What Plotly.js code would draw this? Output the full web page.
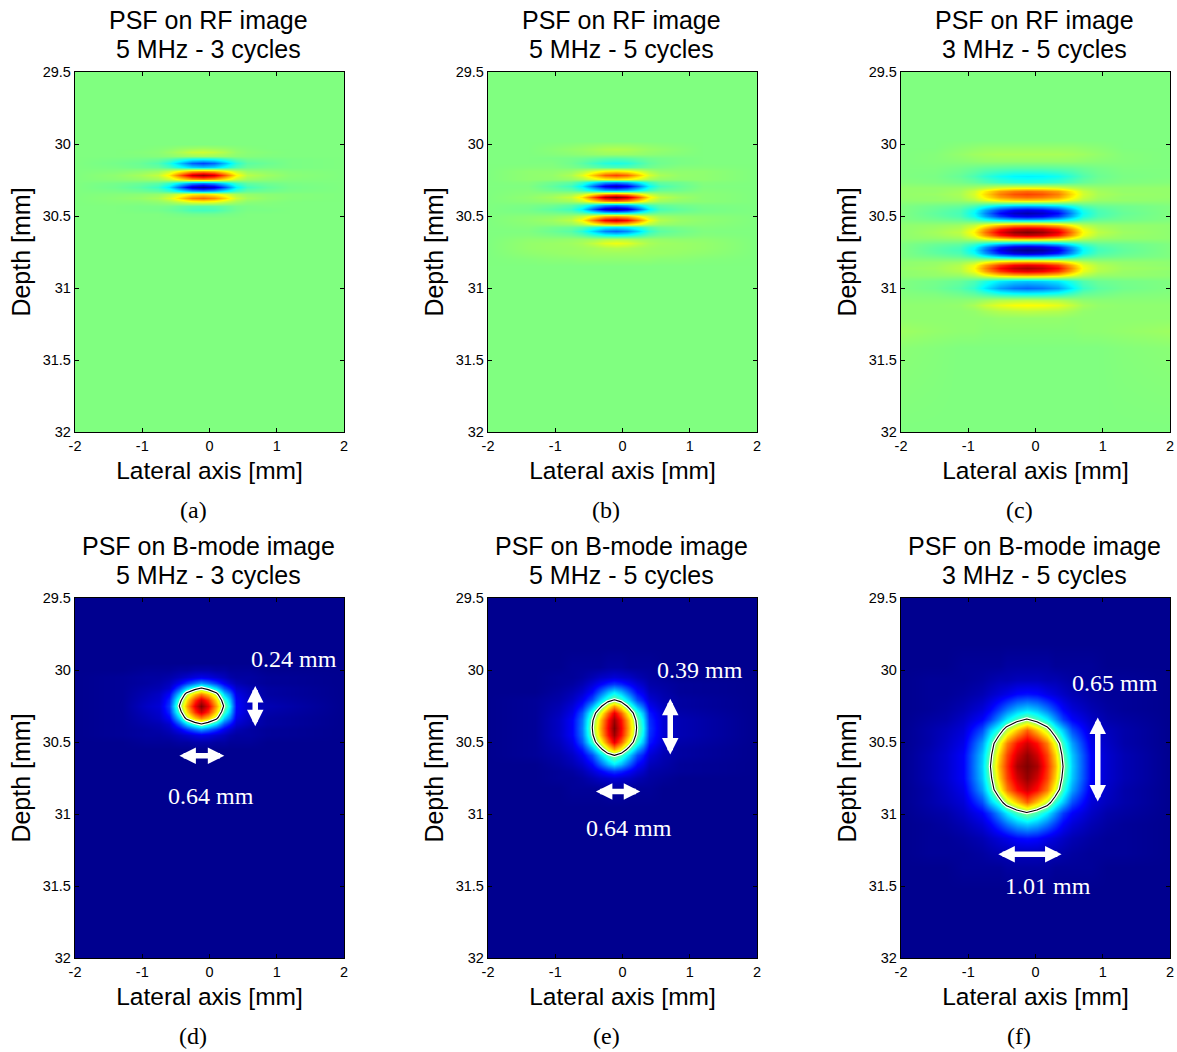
<!DOCTYPE html>
<html><head><meta charset="utf-8">
<script src="https://cdn.plot.ly/plotly-3.0.1.min.js"></script>
<style>html,body{margin:0;padding:0;background:#fff}</style></head>
<body><div id="chart" style="width:1177px;height:1052px"></div>
<script>
const titleLine1 = ["PSF on RF image","PSF on RF image","PSF on RF image","PSF on B-mode image","PSF on B-mode image","PSF on B-mode image"];
const titleLine2 = ["5 MHz - 3 cycles","5 MHz - 5 cycles","3 MHz - 5 cycles","5 MHz - 3 cycles","5 MHz - 5 cycles","3 MHz - 5 cycles"];
const captions = ["(a)","(b)","(c)","(d)","(e)","(f)"];
const xTicks = [-2,-1,0,1,2];
const yTicks = [29.5,30,30.5,31,31.5,32];
const yTickText = ["29.5","30","30.5","31","31.5","32"];

const xA = [-2,-1.4,-1.05,-.76,-.6,-.43,-.26,-.1,.06,.23,.4,.56,.85,1.2,2];
const yA = [29.5,29.97,30,30.027,30.053,30.08,30.107,30.134,30.161,30.188,30.215,30.242,30.269,30.296,30.323,30.35,30.377,30.404,30.431,30.458,30.485,30.512,30.54,32];
const zA = [
[0,0,0,0,0,0,0,0,0,0,0,0,0,0,0],
[0,0,0,0,0,0,0,0,0,0,0,0,0,0,0],
[0,0,0,0,0,0,0,0,0,0,0,0,0,0,0],
[0,0,0,1,2,4,5,6,5,4,2,1,0,0,0],
[0,0,1,2,5,9,14,15,13,9,4,2,1,0,0],
[0,0,0,1,2,4,5,6,5,4,2,1,0,0,0],
[0,-1,-2,-4,-8,-16,-23,-25,-22,-15,-7,-3,-2,-1,0],
[0,-2,-4,-9,-19,-38,-56,-62,-55,-37,-17,-7,-4,-1,0],
[0,-1,-3,-5,-11,-23,-33,-37,-33,-22,-10,-4,-2,-1,0],
[0,1,3,6,14,28,41,45,40,27,13,5,3,1,0],
[0,3,7,13,28,59,86,95,84,57,27,11,6,2,0],
[0,2,4,7,15,31,45,50,44,30,14,6,3,1,0],
[0,-2,-4,-7,-15,-31,-45,-50,-44,-30,-14,-6,-3,-1,0],
[0,-3,-7,-14,-29,-60,-87,-97,-85,-58,-27,-12,-6,-2,0],
[0,-1,-3,-6,-13,-26,-38,-42,-37,-25,-12,-5,-3,-1,0],
[0,1,2,4,9,19,27,30,26,18,8,4,2,1,0],
[0,2,4,8,17,34,50,55,48,33,15,7,3,1,0],
[0,1,1,3,6,12,18,20,18,12,6,2,1,0,0],
[0,0,-1,-1,-2,-5,-7,-8,-7,-5,-2,-1,0,0,0],
[0,0,-1,-2,-4,-7,-11,-12,-11,-7,-3,-1,-1,0,0],
[0,0,0,0,-1,-2,-3,-3,-3,-2,-1,0,0,0,0],
[0,0,0,0,0,0,0,0,0,0,0,0,0,0,0],
[0,0,0,0,0,0,0,0,0,0,0,0,0,0,0],
[0,0,0,0,0,0,0,0,0,0,0,0,0,0,0]];

const xB = [-2,-1.4,-1.05,-.76,-.6,-.43,-.26,-.1,.06,.23,.4,.56,.85,1.2,2];
const yB = [29.5,29.98,30.01,30.037,30.07,30.10,30.134,30.161,30.188,30.215,30.24,30.267,30.292,30.318,30.344,30.37,30.396,30.422,30.449,30.475,30.50,30.528,30.553,30.578,30.604,30.632,30.66,30.69,30.72,30.76,30.80,30.85,32];
const zB = [
[0,0,0,0,0,0,0,0,0,0,0,0,0,0,0],
[0,0,0,0,0,0,0,0,0,0,0,0,0,0,0],
[0,0,1,2,3,4,5,5,5,4,3,2,1,0,0],
[0,0,2,4,5,7,9,10,9,7,5,4,2,0,0],
[0,0,1,2,3,4,5,5,5,4,3,2,1,0,0],
[0,0,-1,-2,-3,-5,-7,-8,-7,-5,-3,-2,-1,0,0],
[0,0,0,-3,-7,-13,-18,-20,-18,-12,-6,-3,-1,0,0],
[0,1,1,-1,-3,-6,-9,-10,-9,-6,-3,-1,1,1,0],
[0,3,3,5,10,19,27,30,26,18,9,4,3,3,0],
[0,3,4,9,19,38,56,62,55,37,17,8,4,3,0],
[0,3,3,5,9,19,27,30,26,18,8,4,3,3,0],
[0,1,-3,-6,-14,-28,-41,-45,-40,-27,-13,-5,-3,1,0],
[0,0,-6,-13,-27,-56,-81,-90,-79,-54,-25,-11,-5,0,0],
[0,1,-3,-6,-14,-28,-41,-45,-40,-27,-13,-5,-3,1,0],
[0,2,4,7,15,31,45,50,44,30,14,6,3,2,0],
[0,3,7,14,30,62,90,100,88,60,28,12,6,2,0],
[0,2,4,7,15,31,45,50,44,30,14,6,3,2,0],
[0,-1,-3,-7,-14,-30,-43,-48,-42,-29,-13,-6,-3,-1,0],
[0,-2,-7,-13,-28,-59,-85,-95,-84,-57,-27,-11,-6,-2,0],
[0,-1,-3,-6,-13,-28,-41,-45,-40,-27,-13,-5,-3,-1,0],
[0,2,3,6,13,26,38,42,37,25,12,5,3,2,0],
[0,3,6,12,26,53,77,85,75,51,24,10,5,3,0],
[0,2,3,5,11,24,34,38,33,23,11,5,3,2,0],
[0,1,-2,-4,-8,-17,-25,-28,-25,-17,-8,-3,-1,1,0],
[0,0,-4,-8,-17,-34,-50,-55,-48,-33,-15,-7,-3,0,0],
[0,1,-1,-3,-7,-15,-22,-25,-22,-15,-7,-3,-1,1,0],
[0,3,3,4,5,6,9,10,9,6,5,4,3,3,0],
[0,4,5,6,8,13,19,22,19,13,8,6,5,4,0],
[0,4,5,5,6,7,9,10,9,7,6,5,5,4,0],
[0,3,4,5,5,6,6,6,6,6,5,5,4,3,0],
[0,1,2,2,3,3,3,3,3,3,3,2,2,1,0],
[0,0,0,0,0,0,0,0,0,0,0,0,0,0,0],
[0,0,0,0,0,0,0,0,0,0,0,0,0,0,0]];

const xC = [-2,-1.5,-1.12,-.91,-.75,-.53,-.32,-.12,.1,.33,.55,.71,.93,1.3,2];
const yC = [29.5,29.97,30.02,30.072,30.12,30.17,30.222,30.263,30.304,30.323,30.345,30.367,30.39,30.43,30.455,30.477,30.499,30.52,30.565,30.587,30.609,30.631,30.652,30.695,30.716,30.738,30.76,30.78,30.82,30.841,30.863,30.885,30.908,30.952,30.997,31.04,31.08,31.118,31.16,31.21,31.3,31.42,32];
const zC = [
[0,0,0,0,0,0,0,0,0,0,0,0,0,0,0],
[0,0,0,0,0,0,0,0,0,0,0,0,0,0,0],
[0,0,2,3,4,4,4,4,4,4,4,3,2,0,0],
[0,1,4,6,7,8,8,8,8,8,7,6,4,1,0],
[0,1,2,3,4,4,4,4,4,4,4,3,2,1,0],
[0,0,-2,-4,-6,-7,-8,-8,-8,-7,-6,-4,-2,0,0],
[0,-1,-5,-10,-16,-22,-26,-27,-26,-22,-15,-9,-4,-1,0],
[1,0,-2,-5,-9,-14,-17,-18,-17,-14,-9,-5,-2,0,1],
[4,4,5,8,13,20,24,25,24,20,13,8,5,4,4],
[4,4,7,15,28,44,51,54,51,44,27,14,7,4,4],
[4,5,8,17,32,50,59,62,59,50,31,16,8,5,4],
[4,4,7,15,28,44,51,54,51,44,27,14,7,4,4],
[3,4,5,10,19,29,34,36,34,29,18,10,5,4,3],
[0,-3,-5,-11,-21,-33,-39,-41,-39,-33,-21,-10,-5,-3,0],
[0,-5,-10,-22,-42,-64,-76,-80,-76,-64,-40,-20,-10,-4,0],
[0,-6,-11,-25,-48,-74,-87,-92,-87,-74,-46,-23,-11,-5,0],
[0,-5,-10,-22,-42,-64,-76,-80,-76,-64,-40,-20,-10,-4,0],
[0,-3,-6,-13,-25,-38,-46,-48,-46,-38,-24,-12,-6,-3,0],
[3,4,6,13,25,38,46,48,46,38,24,12,6,4,3],
[3,6,10,23,45,70,83,87,83,70,44,22,10,5,3],
[3,7,12,27,52,80,95,100,95,80,50,25,12,6,3],
[3,6,10,23,45,70,83,87,83,70,44,22,10,5,3],
[3,4,6,14,26,40,48,50,48,40,25,13,6,4,3],
[0,-4,-6,-14,-26,-40,-48,-50,-48,-40,-25,-13,-6,-4,0],
[0,-6,-10,-23,-45,-70,-83,-87,-83,-70,-44,-22,-10,-5,0],
[0,-7,-12,-27,-52,-80,-95,-100,-95,-80,-50,-25,-12,-6,0],
[0,-6,-10,-23,-45,-70,-83,-87,-83,-70,-44,-22,-10,-5,0],
[0,-3,-6,-13,-25,-39,-47,-49,-47,-39,-25,-12,-6,-3,0],
[3,4,6,12,24,37,44,46,44,37,23,12,6,4,3],
[3,5,10,22,42,64,76,80,76,64,40,20,10,5,3],
[4,6,11,25,48,74,87,92,87,74,46,23,11,6,4],
[3,5,10,22,42,64,76,80,76,64,40,20,10,5,3],
[3,4,5,11,22,34,40,42,40,34,21,11,5,4,3],
[0,-2,-5,-10,-19,-29,-34,-36,-34,-29,-18,-9,-4,-2,0],
[0,-3,-8,-15,-29,-44,-52,-55,-52,-44,-28,-14,-7,-3,0],
[1,0,-3,-6,-11,-18,-21,-22,-21,-18,-11,-5,-3,0,1],
[2,2,2,3,6,10,11,12,11,10,6,3,2,2,2],
[3,3,4,8,14,20,24,25,24,20,13,7,4,3,3],
[3,3,3,4,7,10,11,12,11,10,7,4,3,3,3],
[3,3,3,3,3,4,4,4,4,4,3,3,3,3,3],
[6,4,3,3,2,2,2,2,2,2,2,3,3,4,6],
[2,1,0,0,0,0,0,0,0,0,0,0,0,1,2],
[0,0,0,0,0,0,0,0,0,0,0,0,0,0,0]];

const xD = [-2,-1.3,-.95,-.75,-.6,-.45,-.34,-.22,-.12,-.02,.1,.21,.3,.4,.6,.85,2];
const yD = [29.5,29.95,30,30.05,30.09,30.125,30.17,30.21,30.25,30.29,30.33,30.375,30.41,30.45,30.5,30.55,32];
const zD = [
[0,0,0,0,0,0,0,0,0,0,0,0,0,0,0,0,0],
[0,0,0,0,0,0,0,0,0,0,0,0,0,0,0,0,0],
[0,0,1,1,1,2,2,3,3,3,2,2,1,1,1,0,0],
[0,1,2,2,3,5,7,9,10,9,7,5,3,2,2,1,0],
[0,1,2,3,5,11,18,24,28,24,18,11,7,4,2,1,0],
[0,1,3,4,7,20,34,44,50,44,34,20,14,7,4,2,0],
[0,1,4,6,12,33,56,68,75,68,56,33,24,10,5,2,0],
[0,1,5,7,16,44,66,83,92,83,66,44,31,12,6,3,0],
[0,1,6,8,18,50,72,90,100,90,72,50,35,13,6,4,0],
[0,1,5,7,16,44,66,83,92,83,66,44,31,12,6,3,0],
[0,1,4,6,12,33,56,68,75,68,56,33,24,10,5,2,0],
[0,1,3,4,7,20,34,44,50,44,34,20,14,7,4,2,0],
[0,1,2,3,5,11,18,24,28,24,18,11,7,4,2,1,0],
[0,1,2,2,3,5,7,9,10,9,7,5,3,2,2,1,0],
[0,0,1,1,1,2,2,3,3,3,2,2,1,1,1,0,0],
[0,0,0,0,0,0,0,0,0,0,0,0,0,0,0,0,0],
[0,0,0,0,0,0,0,0,0,0,0,0,0,0,0,0,0]];

const xE = [-2,-1.3,-.95,-.75,-.6,-.45,-.34,-.22,-.12,-.02,.1,.21,.3,.4,.6,.85,2];
const yE = [29.5,29.85,29.98,30.05,30.1,30.15,30.207,30.25,30.3,30.35,30.4,30.45,30.5,30.55,30.593,30.65,30.7,30.75,30.82,30.95,32];
const zE = [
[0,0,0,0,0,0,0,0,0,0,0,0,0,0,0,0,0],
[0,0,0,0,0,0,0,0,0,0,0,0,0,0,0,0,0],
[0,0,0,1,1,1,1,2,2,2,1,1,1,1,0,0,0],
[0,0,1,1,2,4,6,7,8,7,6,4,3,2,1,0,0],
[0,0,1,2,4,8,12,16,18,16,12,8,6,3,2,1,0],
[0,0,2,4,7,13,22,31,36,31,22,13,10,5,3,1,0],
[0,1,3,6,11,20,33,44,50,44,33,20,15,8,4,2,0],
[0,1,4,8,15,30,45,62,72,62,45,30,22,11,5,2,0],
[0,1,5,10,21,42,60,78,90,78,60,42,31,15,7,3,0],
[0,1,6,12,24,48,68,86,97,86,68,48,36,17,8,4,0],
[0,1,6,12,25,50,70,88,100,88,70,50,38,18,8,4,0],
[0,1,6,12,24,48,68,86,97,86,68,48,36,17,8,4,0],
[0,1,5,10,21,42,60,78,90,78,60,42,31,15,7,3,0],
[0,1,4,8,15,30,45,62,72,62,45,30,22,11,5,2,0],
[0,1,3,6,11,20,33,44,50,44,33,20,15,8,4,2,0],
[0,0,2,4,7,13,22,31,36,31,22,13,10,5,3,1,0],
[0,0,1,2,4,8,12,16,18,16,12,8,6,3,2,1,0],
[0,0,1,1,2,4,6,7,8,7,6,4,3,2,1,0,0],
[0,0,0,1,1,1,1,2,2,2,1,1,1,1,0,0,0],
[0,0,0,0,0,0,0,0,0,0,0,0,0,0,0,0,0],
[0,0,0,0,0,0,0,0,0,0,0,0,0,0,0,0,0]];

const xF = [-2,-1.58,-1.33,-1.08,-.8,-.67,-.55,-.43,-.28,-.13,.02,.17,.29,.41,.54,.82,1.07,1.32,2];
const yF = [29.5,29.82,29.97,30.07,30.17,30.27,30.34,30.42,30.51,30.59,30.67,30.75,30.83,30.92,30.99,31.07,31.17,31.27,31.37,31.52,32];
const zF = [
[0,0,0,0,0,0,0,0,0,0,0,0,0,0,0,0,0,0,0],
[0,0,0,0,0,0,0,0,0,0,0,0,0,0,0,0,0,0,0],
[0,0,0,1,1,1,1,2,2,2,2,2,1,1,1,1,0,0,0],
[0,1,1,1,2,3,4,4,5,5,5,4,4,3,2,1,1,1,0],
[0,1,1,2,4,6,8,10,13,14,13,10,8,6,4,2,1,1,0],
[0,1,2,4,8,12,18,24,30,33,30,24,18,12,8,4,2,1,0],
[0,2,3,6,12,18,27,36,44,50,44,36,27,18,12,6,3,2,0],
[0,3,5,8,20,32,42,57,68,78,68,57,42,32,20,8,5,3,0],
[0,3,6,10,28,42,60,75,86,92,86,75,60,42,28,10,6,3,0],
[0,4,7,12,32,47,67,81,92,98,92,81,67,47,32,12,7,4,0],
[0,4,7,12,33,50,70,83,96,100,96,83,70,50,33,12,7,4,0],
[0,4,7,12,32,47,67,81,92,98,92,81,67,47,32,12,7,4,0],
[0,3,6,10,28,42,60,75,86,92,86,75,60,42,28,10,6,3,0],
[0,3,5,8,20,32,42,57,68,78,68,57,42,32,20,8,5,3,0],
[0,2,3,6,12,18,27,36,44,50,44,36,27,18,12,6,3,2,0],
[0,1,2,4,8,12,18,24,30,33,30,24,18,12,8,4,2,1,0],
[0,1,1,2,4,6,8,10,13,14,13,10,8,6,4,2,1,1,0],
[0,1,1,1,2,3,4,4,5,5,5,4,4,3,2,1,1,1,0],
[0,0,0,1,1,1,1,2,2,2,2,2,1,1,1,1,0,0,0],
[0,0,0,0,0,0,0,0,0,0,0,0,0,0,0,0,0,0,0],
[0,0,0,0,0,0,0,0,0,0,0,0,0,0,0,0,0,0,0]];

const arrowAxis = [4,4,5,5,6,6];
const arrowX0 = [.68,-.47,.71,-.418,.926,-.575];
const arrowY0 = [30.10,30.596,30.19,30.843,30.32,31.28];
const arrowX1 = [.68,.22,.71,.264,.926,.388];
const arrowY1 = [30.39,30.596,30.587,30.843,30.913,31.28];
const labelText = ["0.24 mm","0.64 mm","0.39 mm","0.64 mm","0.65 mm","1.01 mm"];
const labelX = [1.254,.015,1.15,.096,1.188,.185];
const labelY = [29.925,30.878,29.998,31.1,30.09,31.5];

const jet = [[0,'rgb(0,0,143)'],[.125,'rgb(0,0,255)'],[.375,'rgb(0,255,255)'],[.625,'rgb(255,255,0)'],[.875,'rgb(255,0,0)'],[1,'rgb(128,0,0)']];
const W = 1177, H = 1052;
const panelLeft = [75,488,901], panelWidth = 269;
const panelTop = [72,598], panelHeight = 360;
const title1Y = [20,546], title2Y = [49,575];
const sans = '"Liberation Sans",Arial,sans-serif', serif = '"Liberation Serif","Times New Roman",serif';
const xs = [xA,xB,xC,xD,xE,xF], ys = [yA,yB,yC,yD,yE,yF], zs = [zA,zB,zC,zD,zE,zF];
const traces = [], annotations = [], layout = {
  width:W,height:H,margin:{l:0,r:0,t:0,b:0},paper_bgcolor:'#fff',plot_bgcolor:'#fff',showlegend:false,annotations
};
for (let i=0;i<6;i++){
  const n=i+1, sfx=i?String(n):'', col=i%3, row=i<3?0:1;
  const L=panelLeft[col], T=panelTop[row], Hh=panelHeight;
  const isRF=i<3;
  traces.push({type:'heatmap',x:xs[i],y:ys[i],z:zs[i],xaxis:'x'+sfx,yaxis:'y'+sfx,colorscale:jet,zmin:isRF?-100:0,zmax:100,zsmooth:'best',showscale:false,hoverinfo:'skip'});
  if(!isRF){
    for(const [c,w] of [['#fff',3.4],['#000',1.1]]){
      traces.push({type:'contour',x:xs[i],y:ys[i],z:zs[i],xaxis:'x'+sfx,yaxis:'y'+sfx,showscale:false,hoverinfo:'skip',
        autocontour:false,contours:{coloring:'none',start:50,end:50,size:1,showlabels:false},line:{color:c,width:w,smoothing:0}});
    }
  }
  layout['xaxis'+sfx]={domain:[L/W,(L+panelWidth)/W],anchor:'y'+sfx,range:[-2,2],tickvals:xTicks,ticktext:xTicks.map(String),tickmode:'array',
    ticks:'inside',ticklen:4,tickwidth:1,tickcolor:'#000',showline:true,linecolor:'#000',linewidth:1.2,mirror:'ticks',showgrid:false,zeroline:false,
    tickfont:{family:sans,size:14.5,color:'#000'},title:{text:'Lateral axis [mm]',font:{family:sans,size:24.5,color:'#000'},standoff:9}};
  layout['yaxis'+sfx]={domain:[1-(T+Hh)/H,1-T/H],anchor:'x'+sfx,range:[32,29.5],tickvals:yTicks,ticktext:yTickText,tickmode:'array',
    ticks:'inside',ticklen:4,tickwidth:1,tickcolor:'#000',showline:true,linecolor:'#000',linewidth:1.2,mirror:'ticks',showgrid:false,zeroline:false,
    tickfont:{family:sans,size:14.5,color:'#000'},title:{text:'Depth [mm]',font:{family:sans,size:25,color:'#000'},standoff:5}};
  annotations.push({xref:'paper',yref:'paper',x:(L+133.5)/W,y:1-title1Y[row]/H,yanchor:'middle',xanchor:'center',showarrow:false,
    text:titleLine1[i],font:{family:sans,size:25,color:'#000'}});
  annotations.push({xref:'paper',yref:'paper',x:(L+133.5)/W,y:1-title2Y[row]/H,yanchor:'middle',xanchor:'center',showarrow:false,
    text:titleLine2[i],font:{family:sans,size:25,color:'#000'}});
  annotations.push({xref:'paper',yref:'paper',x:(L+118)/W,y:1-(T+Hh+78)/H,yanchor:'middle',xanchor:'center',showarrow:false,
    text:captions[i],font:{family:serif,size:24,color:'#000'}});
}
for(let k=0;k<arrowAxis.length;k++){
  const a=String(arrowAxis[k]);
  annotations.push({xref:'x'+a,yref:'y'+a,axref:'x'+a,ayref:'y'+a,x:arrowX1[k],y:arrowY1[k],ax:arrowX0[k],ay:arrowY0[k],text:'',showarrow:true,
    arrowcolor:'#fff',arrowwidth:5.5,arrowhead:2,startarrowhead:2,arrowside:'end+start',arrowsize:.6,startarrowsize:.6,standoff:0,startstandoff:0});
  annotations.push({xref:'x'+a,yref:'y'+a,x:labelX[k],y:labelY[k],text:labelText[k],showarrow:false,xanchor:'center',yanchor:'middle',
    font:{family:serif,size:24,color:'#fff'}});
}
Plotly.newPlot('chart',traces,layout,{displayModeBar:false,staticPlot:true});
</script></body></html>
